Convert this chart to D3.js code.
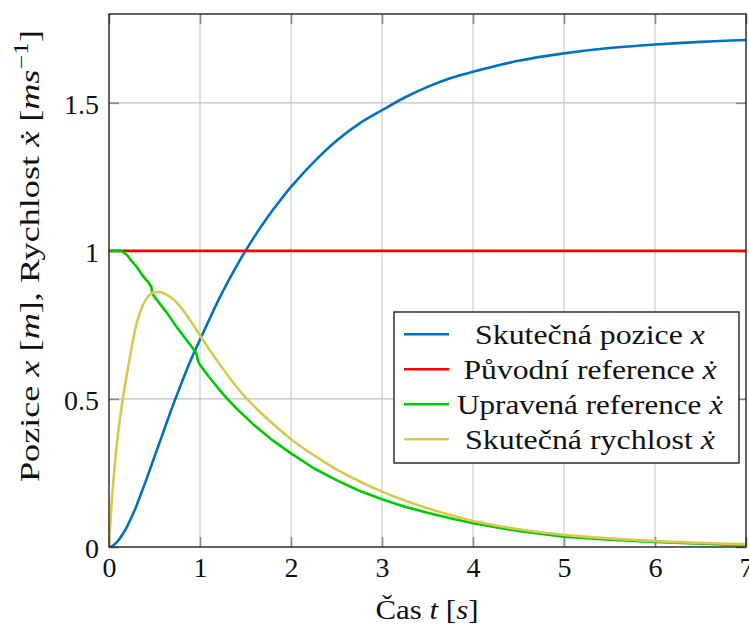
<!DOCTYPE html>
<html><head><meta charset="utf-8">
<script src="https://cdn.jsdelivr.net/npm/d3@7"></script>
<style>
body{margin:0;background:#fff}
svg{display:block}
text{font-family:"Liberation Serif","Times New Roman",serif;fill:#111}
</style>
</head><body>
<svg id="chart" width="749" height="626"></svg>
<script>
// ---- data ----
const timeS = [0,0.025,0.05,0.1,0.15,0.2,0.25,0.3,0.35,0.4,0.45,0.5,0.55,0.6,0.7,0.8,0.9,1.0,1.1,1.2,1.3,1.4,1.5,1.6,1.7,1.8,1.9,2.0,2.25,2.5,2.75,3.0,3.25,3.5,3.75,4.0,4.5,5.0,5.5,6.0,6.5,7.0];
const position = [0,0.002,0.006,0.021,0.043,0.070,0.102,0.138,0.178,0.219,0.262,0.305,0.348,0.391,0.476,0.556,0.632,0.700,0.767,0.832,0.892,0.948,1.000,1.049,1.095,1.138,1.178,1.216,1.300,1.372,1.430,1.475,1.518,1.554,1.583,1.605,1.642,1.667,1.685,1.697,1.706,1.712];
const velocity = [0,0.13,0.23,0.385,0.495,0.59,0.675,0.75,0.8,0.833,0.852,0.86,0.861,0.857,0.838,0.805,0.762,0.714,0.668,0.624,0.582,0.542,0.505,0.474,0.444,0.416,0.39,0.364,0.31,0.262,0.222,0.187,0.157,0.131,0.108,0.088,0.06,0.041,0.029,0.02,0.014,0.009];
const greenTime = [0,0.14,0.2,0.25,0.3,0.35,0.4,0.43,0.465,0.475,0.49,0.55,0.6,0.65,0.7,0.75,0.8,0.85,0.9,0.96,0.97,0.98,1.0,1.1,1.2,1.3,1.4,1.6,1.8,2.0,2.25,2.5,2.75,3.0,3.25,3.5,3.75,4.0,4.5,5.0,5.5,6.0,6.5,7.0];
const greenRef = [1,1,0.985,0.965,0.948,0.925,0.905,0.895,0.879,0.86,0.849,0.825,0.805,0.785,0.762,0.74,0.72,0.70,0.68,0.654,0.64,0.626,0.615,0.574,0.536,0.5,0.468,0.41,0.36,0.316,0.266,0.226,0.19,0.161,0.136,0.116,0.097,0.080,0.054,0.035,0.025,0.017,0.011,0.006];
const redTime = [0,7];
const redRef = [1,1];
const xTicks = [0,1,2,3,4,5,6,7];
const xTickLabels = ["0","1","2","3","4","5","6","7"];
const yTicks = [0,0.5,1,1.5];
const yTickLabels = ["0","0.5","1","1.5"];
const seriesColors = ["#0072bd","#ff0000","#00c800","#d8c850"];

// ---- layout ----
const L = 109, R = 746, T = 14, B = 547;
const svg = d3.select("#chart");
const x = d3.scaleLinear().domain([0,7]).range([L,R]);
const y = d3.scaleLinear().domain([0,1.8]).range([B,T]);
const FS = 28;

// grid
const g = svg.append("g");
g.selectAll(".gx").data(xTicks.slice(1,-1)).enter().append("line")
  .attr("x1",d=>x(d)).attr("x2",d=>x(d)).attr("y1",T).attr("y2",B)
  .attr("stroke","#cfcfcf").attr("stroke-width",1.3);
g.selectAll(".gy").data(yTicks.slice(1)).enter().append("line")
  .attr("x1",L).attr("x2",R).attr("y1",d=>y(d)).attr("y2",d=>y(d))
  .attr("stroke","#c0c0c0").attr("stroke-width",1.3);

// axes (ticks inside, on all sides)
const tl = 10;
const axB = d3.axisBottom(x).tickValues(xTicks).tickSize(-tl).tickFormat((d,i)=>xTickLabels[i]);
const axT = d3.axisTop(x).tickValues(xTicks).tickSize(-tl).tickFormat("");
const axL = d3.axisLeft(y).tickValues(yTicks).tickSize(-tl).tickFormat((d,i)=>yTickLabels[i]);
const axR = d3.axisRight(y).tickValues(yTicks).tickSize(-tl).tickFormat("");
function styleAxis(sel){
  sel.select(".domain").remove();
  sel.selectAll(".tick line").attr("stroke","#888").attr("stroke-width",1.6);
  sel.selectAll(".tick text").style("font-size",FS+"px").attr("fill","#111");
}
svg.append("g").attr("transform",`translate(0,${B})`).call(axB).call(styleAxis)
  .selectAll(".tick text").attr("y",30).attr("dy",0);
svg.append("g").attr("transform",`translate(0,${T})`).call(axT).call(styleAxis);
svg.append("g").attr("transform",`translate(${L},0)`).call(axL).call(styleAxis)
  .selectAll(".tick text").attr("x",-10).attr("dy",10.5);
svg.append("g").attr("transform",`translate(${R},0)`).call(axR).call(styleAxis);

// clip
svg.append("clipPath").attr("id","clip").append("rect")
  .attr("x",L).attr("y",T).attr("width",R-L).attr("height",B-T);

// lines
const smooth = d3.line().x(d=>x(d[0])).y(d=>y(d[1])).curve(d3.curveCatmullRom.alpha(0.5));
const straight = d3.line().x(d=>x(d[0])).y(d=>y(d[1]));
const series = [
  {data: timeS.map((t,i)=>[t,position[i]]), line: smooth, c: seriesColors[0]},
  {data: redTime.map((t,i)=>[t,redRef[i]]), line: straight, c: seriesColors[1]},
  {data: greenTime.map((t,i)=>[t,greenRef[i]]), line: straight, c: seriesColors[2]},
  {data: timeS.map((t,i)=>[t,velocity[i]]), line: smooth, c: seriesColors[3]},
];
const lg = svg.append("g").attr("clip-path","url(#clip)");
series.forEach(s=>{
  lg.append("path").attr("d",s.line(s.data)).attr("fill","none")
    .attr("stroke",s.c).attr("stroke-width",2.6).attr("stroke-linejoin","round");
});

// frame
svg.append("rect").attr("x",L).attr("y",T).attr("width",R-L).attr("height",B-T)
  .attr("fill","none").attr("stroke","#222").attr("stroke-width",1.4);

// helper for rich text
function rich(textSel, parts){
  parts.forEach(p=>{
    const ts = textSel.append("tspan").text(p.t);
    if(p.i) ts.style("font-style","italic");
    if(p.sup) ts.attr("baseline-shift","super").style("font-size","20px");
  });
}

// legend
const legendLabels = [
  [{t:"Skutečná pozice "},{t:"x",i:true}],
  [{t:"Původní reference "},{t:"ẋ",i:true}],
  [{t:"Upravená reference "},{t:"ẋ",i:true}],
  [{t:"Skutečná rychlost "},{t:"ẋ",i:true}],
];
const legendWidths = [230,253,266,250];
svg.append("rect").attr("x",394).attr("y",312).attr("width",345).attr("height",151)
  .attr("fill","#fff").attr("stroke","#222").attr("stroke-width",1.4);
legendLabels.forEach((lab,i)=>{
  const cy = 334.3 + i*35;
  svg.append("line").attr("x1",404).attr("x2",449).attr("y1",cy).attr("y2",cy)
    .attr("stroke",seriesColors[i]).attr("stroke-width",2.6);
  const t = svg.append("text").attr("x",590).attr("y",cy+9.5).attr("text-anchor","middle")
    .attr("textLength",legendWidths[i]).attr("lengthAdjust","spacingAndGlyphs")
    .style("font-size",FS+"px");
  rich(t, lab);
});

// axis labels
const xl = svg.append("text").attr("x",427).attr("y",619).attr("text-anchor","middle")
  .attr("textLength",103).attr("lengthAdjust","spacingAndGlyphs").style("font-size",FS+"px");
rich(xl,[{t:"Čas "},{t:"t",i:true},{t:" ["},{t:"s",i:true},{t:"]"}]);
const yl = svg.append("text").attr("transform","translate(39,256) rotate(-90)")
  .attr("text-anchor","middle").attr("textLength",452).attr("lengthAdjust","spacingAndGlyphs")
  .style("font-size",FS+"px");
rich(yl,[{t:"Pozice "},{t:"x",i:true},{t:"  ["},{t:"m",i:true},{t:"], Rychlost "},{t:"ẋ",i:true},{t:"  ["},{t:"ms",i:true},{t:"−1",sup:true},{t:"]"}]);
</script>
</body></html>
